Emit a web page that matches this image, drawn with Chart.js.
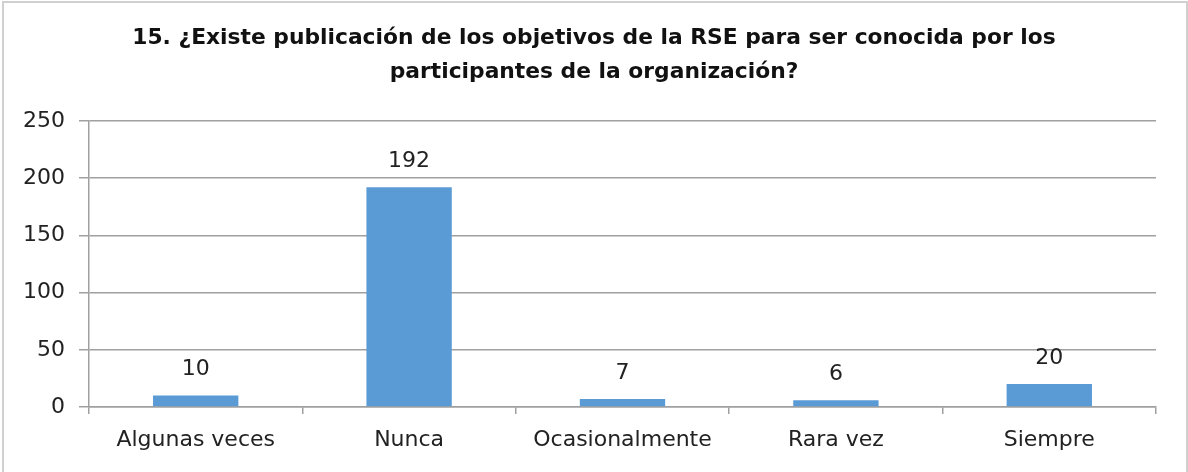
<!DOCTYPE html>
<html>
<head>
<meta charset="utf-8">
<script src="https://cdn.jsdelivr.net/npm/chart.js@4"></script>
<style>
html,body{margin:0;padding:0;background:#fff;}
#wrap{position:absolute;left:0;top:0;width:1188px;height:472px;overflow:hidden;}
#frame{position:absolute;left:2px;top:1px;width:1186px;height:500px;border:2px solid #d0d0d0;box-sizing:border-box;}
canvas{position:absolute;left:0;top:0;}
</style>
</head>
<body>
<div id="wrap">
<div id="frame"></div>
<canvas id="c" width="1188" height="472"></canvas>
</div>
<script>
const titleLines = ["15. ¿Existe publicación de los objetivos de la RSE para ser conocida por los", "participantes de la organización?"];
const categories = ["Algunas veces", "Nunca", "Ocasionalmente", "Rara vez", "Siempre"];
const values = [10, 192, 7, 6, 20];
const yTicks = [0, 50, 100, 150, 200, 250];

const FONT = "'DejaVu Sans', sans-serif";

const labelPlugin = {
  id: 'barLabels',
  afterLayout(chart) {
    const t = chart.titleBlock;
    if (t) { t.left = 0; t.right = chart.width; t.width = chart.width; }
  },
  afterDatasetsDraw(chart) {
    const ctx = chart.ctx;
    const meta = chart.getDatasetMeta(0);
    ctx.save();
    ctx.font = "22px " + FONT;
    ctx.fillStyle = "#222";
    ctx.textAlign = "center";
    ctx.textBaseline = "bottom";
    meta.data.forEach((bar, i) => {
      ctx.fillText(String(values[i]), bar.x, bar.y - 15);
    });
    ctx.restore();
  }
};

new Chart(document.getElementById('c'), {
  type: 'bar',
  data: {
    labels: categories,
    datasets: [{
      data: values,
      backgroundColor: '#5B9BD5',
      borderWidth: 0,
      barPercentage: 0.4,
      categoryPercentage: 1.0
    }]
  },
  options: {
    responsive: false,
    animation: false,
    devicePixelRatio: 1,
    layout: { padding: { top: 0, right: 32, bottom: 0, left: 0 } },
    plugins: {
      legend: { display: false },
      tooltip: { enabled: false },
      title: {
        display: true,
        text: titleLines,
        color: '#111',
        font: { family: FONT, size: 21.8, weight: 'bold', lineHeight: 1.56 },
        padding: { top: 21, bottom: 32 }
      }
    },
    scales: {
      y: {
        min: 0, max: 250,
        afterBuildTicks(scale) { scale.ticks = yTicks.map(v => ({ value: v })); },
        afterFit(scale) { scale.width = 89; },
        ticks: { color: '#222', font: { family: FONT, size: 22 }, padding: 14 },
        grid: { color: '#a0a0a0', lineWidth: 1.5, tickLength: 10, tickColor: '#a0a0a0' },
        border: { color: '#a0a0a0', width: 1.5 }
      },
      x: {
        afterFit(scale) { scale.height = 65; },
        ticks: { color: '#222', font: { family: FONT, size: 22 }, padding: 13, maxRotation: 0 },
        grid: { offset: true, drawOnChartArea: false, tickLength: 7, color: '#a0a0a0', lineWidth: 1.5 },
        border: { color: '#a0a0a0', width: 1.5 }
      }
    }
  },
  plugins: [labelPlugin]
});
</script>
</body>
</html>
